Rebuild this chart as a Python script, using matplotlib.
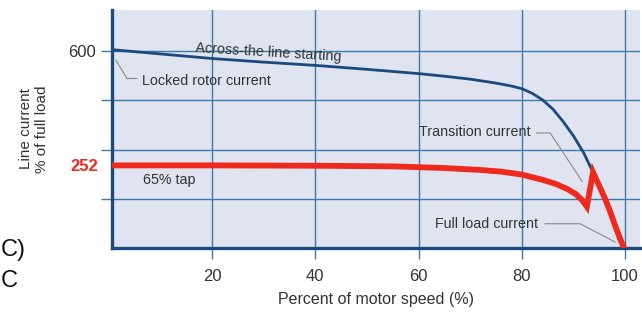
import matplotlib
matplotlib.use("Agg")
import matplotlib.pyplot as plt

plt.rcParams['font.family'] = ['Liberation Sans', 'DejaVu Sans']

# across-the-line starting current (% of full load) vs motor speed (%)
speed_full = [0.6, 10, 20, 30, 40, 50, 60, 65, 70, 75, 78, 80, 82, 84, 86, 88,
              90, 92, 93.8, 95, 96, 97, 98, 99, 99.8]
current_full = [605, 592, 578, 567, 557, 545, 532, 524, 515, 503, 494, 486, 472, 452, 424, 386,
                342, 290, 231, 190, 155, 116, 72, 30, 0]

# 65% autotransformer tap
speed_tap = [0.6, 20, 40, 55, 65, 72, 76, 80, 84, 86.5, 88.8, 90.5, 91.7, 92.6,
             93.8, 95, 96, 97, 98, 99, 99.8]
current_tap = [252, 252, 251, 249, 244, 238, 233, 224, 208, 196, 180, 164, 146, 126,
               231, 190, 155, 116, 72, 30, 0]

x_ticks = [20, 40, 60, 80, 100]
y_grid = [150, 300, 450, 600]
y_labels = ['', '', '', '600']
tap_level = 252

navy = '#1d4a7e'
grid_c = '#3d7aa6'
red = '#ee2a1e'
txt = '#333333'

fig = plt.figure(figsize=(6.42, 3.14), dpi=100)
ax = fig.add_axes([112 / 642, 1 - 248 / 314, 528 / 642, 238 / 314])
ax.set_facecolor('#dfe4f0')

ax.plot(speed_full, current_full, color=navy, lw=2.0, zorder=3)
ax.plot(speed_tap, current_tap, color=red, lw=4.2, zorder=4, solid_joinstyle='miter')

ax.set_xlim(0.6, 102.9)
ax.set_ylim(0, 726)
ax.set_xticks(x_ticks)
ax.set_yticks(y_grid)
ax.set_yticklabels(y_labels)
ax.set_yticks([tap_level], minor=True)
ax.set_yticklabels([str(tap_level)], minor=True, color=red, fontweight='bold')
ax.tick_params(axis='y', which='minor', length=0, labelsize=12, pad=10)
ax.tick_params(axis='both', which='major', direction='out', length=8, width=1,
               color=grid_c, labelsize=12, labelcolor=txt)
ax.tick_params(axis='x', which='major', pad=7)
ax.grid(True, color=grid_c, lw=1)
ax.set_axisbelow(True)

for s in ['top', 'right']:
    ax.spines[s].set_visible(False)
for s in ['left', 'bottom']:
    ax.spines[s].set_color(navy)
    ax.spines[s].set_linewidth(2.4)

ax.set_xlabel('Percent of motor speed (%)', fontsize=11.5, color=txt, labelpad=6)
ax.set_ylabel('Line current\n% of full load', fontsize=11, color=txt, labelpad=14)

fs = 10.3
ax.text(31.0, 596, 'Across-the line starting', fontsize=fs, color=txt,
        rotation=-3.5, ha='center', va='center')
ax.text(6.4, 508, 'Locked rotor current', fontsize=fs, color=txt, va='center')
ax.plot([1.4, 3.5, 5.4], [572, 517, 517], color='#888888', lw=0.8)
ax.text(6.6, 206, '65% tap', fontsize=fs, color=txt, va='center')
ax.text(81.6, 354, 'Transition current', fontsize=fs, color=txt, ha='right', va='center')
ax.plot([82.9, 85.5, 91.7], [351, 351, 203], color='#888888', lw=0.8)
ax.text(83.1, 74, 'Full load current', fontsize=fs, color=txt, ha='right', va='center')
ax.plot([84.5, 91.3, 98.1], [74, 74, 18], color='#888888', lw=0.8)

# cropped labels from the neighbouring figure
fig.text(1 / 642, 1 - 250 / 314, 'C)', fontsize=17, ha='left', va='center', color='#111111')
fig.text(1 / 642, 1 - 281 / 314, 'C', fontsize=17, ha='left', va='center', color='#111111')

fig.savefig('out.png', dpi=100)
